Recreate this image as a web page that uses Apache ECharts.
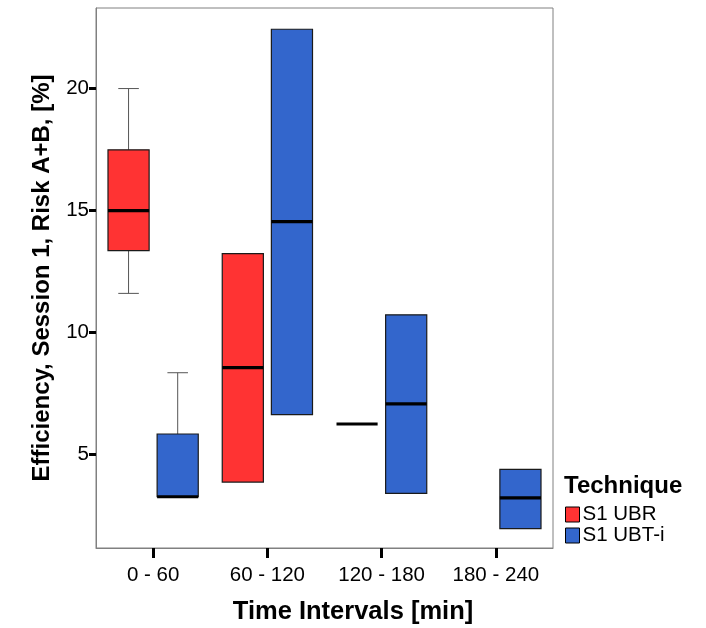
<!DOCTYPE html>
<html>
<head>
<meta charset="utf-8">
<script src="https://cdn.jsdelivr.net/npm/echarts@6/dist/echarts.min.js"></script>
<style>
html,body{margin:0;padding:0;background:#fff;}
#chart{width:706px;height:628px;}
</style>
</head>
<body>
<div id="chart"></div>
<script>
// Categories (time intervals)
const categories = ['0 - 60', '60 - 120', '120 - 180', '180 - 240'];
// Box values per category: [min, Q1, median, Q3, max]; null = no data
const ubrValues = [
  [11.61, 13.36, 15.00, 17.49, 20.00],
  [3.88, 3.88, 8.57, 13.24, 13.24],
  [6.26, 6.26, 6.26, 6.26, 6.26],
  null
];
const ubtiValues = [
  [3.28, 3.28, 3.28, 5.85, 8.36],
  [6.64, 6.64, 14.55, 22.43, 22.43],
  [3.42, 3.42, 7.08, 10.73, 10.73],
  [1.97, 1.97, 3.23, 4.40, 4.40]
];
const yTicks = [5, 10, 15, 20];
const seriesNames = ['S1 UBR', 'S1 UBT-i'];
const seriesColors = ['#FF3333', '#3366CC'];

const FONT = 'Liberation Sans, Arial, sans-serif';

function toData(vals) {
  const out = [];
  vals.forEach(function (v, i) { if (v) out.push([i].concat(v)); });
  return out;
}

function makeRender(offsetFrac, widthFrac, color) {
  return function (params, api) {
    const cat = api.value(0);
    const band = api.size([1, 0])[0];
    const cx = api.coord([cat, 0])[0] + offsetFrac * band;
    const w = widthFrac * band;
    const yMin = api.coord([cat, api.value(1)])[1];
    const yQ1 = api.coord([cat, api.value(2)])[1];
    const yMed = api.coord([cat, api.value(3)])[1];
    const yQ3 = api.coord([cat, api.value(4)])[1];
    const yMax = api.coord([cat, api.value(5)])[1];
    const whisk = { stroke: '#555', lineWidth: 1 };
    const children = [];
    if (Math.abs(yMax - yQ3) > 0.5) {
      children.push({ type: 'line', shape: { x1: cx, y1: yMax, x2: cx, y2: yQ3 }, style: whisk });
      children.push({ type: 'line', shape: { x1: cx - w / 4, y1: yMax, x2: cx + w / 4, y2: yMax }, style: whisk });
    }
    if (Math.abs(yMin - yQ1) > 0.5) {
      children.push({ type: 'line', shape: { x1: cx, y1: yQ1, x2: cx, y2: yMin }, style: whisk });
      children.push({ type: 'line', shape: { x1: cx - w / 4, y1: yMin, x2: cx + w / 4, y2: yMin }, style: whisk });
    }
    if (Math.abs(yQ1 - yQ3) > 0.5) {
      children.push({ type: 'rect', shape: { x: cx - w / 2, y: yQ3, width: w, height: yQ1 - yQ3 },
        style: { fill: color, stroke: '#1a1a1a', lineWidth: 1.2 } });
    }
    children.push({ type: 'line', shape: { x1: cx - w / 2, y1: yMed, x2: cx + w / 2, y2: yMed },
      style: { stroke: '#000', lineWidth: 3.2 } });
    return { type: 'group', children: children };
  };
}

const chart = echarts.init(document.getElementById('chart'), null, { renderer: 'canvas' });
chart.setOption({
  backgroundColor: '#fff',
  animation: false,
  title: [
    {
      text: 'Technique',
      left: 564, top: 474,
      textStyle: { fontFamily: FONT, fontSize: 24, fontWeight: 'bold', color: '#000' },
      padding: 0
    },
    {
      text: 'Time Intervals [min]',
      left: 'center', top: 599,
      textStyle: { fontFamily: FONT, fontSize: 25.5, fontWeight: 'bold', color: '#000' },
      padding: 0
    }
  ],
  legend: {
    orient: 'vertical',
    left: 565, top: 504,
    itemWidth: 14, itemHeight: 15, itemGap: 0,
    padding: 0,
    icon: 'rect',
    itemStyle: { borderColor: '#000', borderWidth: 1 },
    textStyle: { fontFamily: FONT, fontSize: 20.5, color: '#000', padding: [0, 0, 0, -2] },
    data: seriesNames
  },
  grid: {
    left: 96, right: 153, top: 8, bottom: 80,
    show: true, borderColor: '#808080', borderWidth: 1, backgroundColor: '#fff'
  },
  xAxis: {
    type: 'category',
    data: categories,
    boundaryGap: true,
    axisLine: { show: true, lineStyle: { color: '#808080', width: 1 } },
    axisTick: { show: true, alignWithLabel: true, length: 10, lineStyle: { color: '#000', width: 3 } },
    axisLabel: { fontFamily: FONT, fontSize: 20.5, color: '#000', margin: 17 },
    splitLine: { show: false }
  },
  yAxis: {
    type: 'value',
    min: 1.18, max: 23.3,
    axisLine: { show: true, lineStyle: { color: '#808080', width: 1 } },
    axisTick: { show: true, length: 7, customValues: yTicks, lineStyle: { color: '#000', width: 3 } },
    axisLabel: { fontFamily: FONT, fontSize: 20.5, color: '#000', margin: 7, customValues: yTicks },
    splitLine: { show: false },
    name: 'Efficiency, Session 1, Risk A+B, [%]',
    nameLocation: 'middle',
    nameGap: 42,
    nameTextStyle: { fontFamily: FONT, fontSize: 24, fontWeight: 'bold', color: '#000' }
  },
  series: [
    {
      name: seriesNames[0], type: 'custom',
      itemStyle: { color: seriesColors[0] },
      encode: { x: 0, y: [1, 2, 3, 4, 5] },
      renderItem: makeRender(-0.215, 0.36, seriesColors[0]),
      data: toData(ubrValues)
    },
    {
      name: seriesNames[1], type: 'custom',
      itemStyle: { color: seriesColors[1] },
      encode: { x: 0, y: [1, 2, 3, 4, 5] },
      renderItem: makeRender(0.215, 0.36, seriesColors[1]),
      data: toData(ubtiValues)
    }
  ]
});
</script>
</body>
</html>
